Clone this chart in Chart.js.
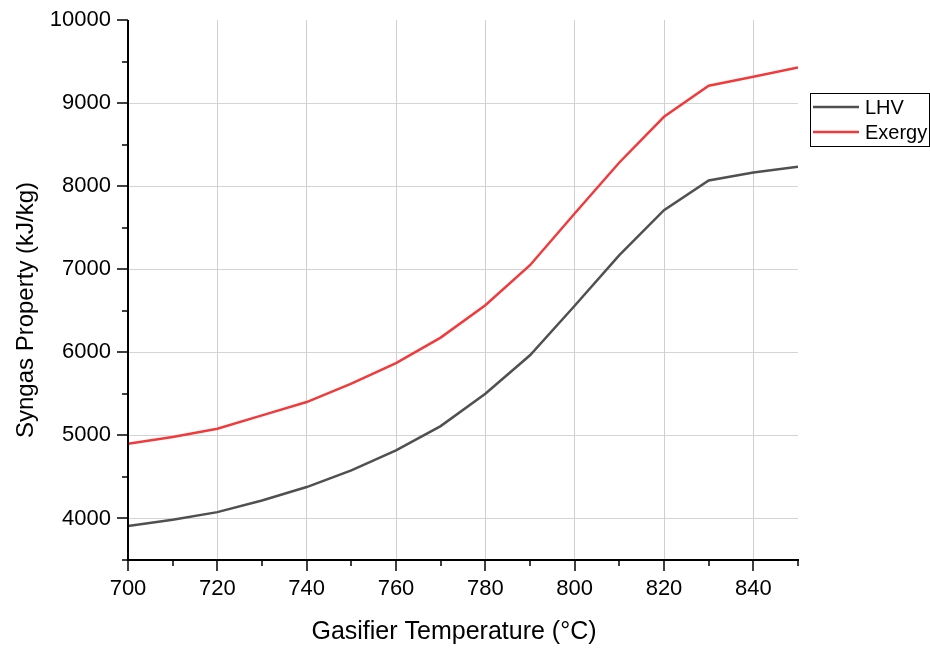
<!DOCTYPE html>
<html><head><meta charset="utf-8">
<script src="https://cdn.jsdelivr.net/npm/chart.js@4.4.1/dist/chart.umd.min.js"></script>
<style>html,body{margin:0;padding:0;background:#fff}canvas{display:block}</style>
</head><body>
<canvas id="c" width="930" height="648"></canvas>
<script>
const temperatures = [700,710,720,730,740,750,760,770,780,790,800,810,820,830,840,850];
const lhv = [3908,3984,4076,4217,4378,4578,4819,5112,5502,5964,6560,7169,7711,8068,8165,8233];
const exergy = [4900,4980,5080,5241,5401,5622,5871,6177,6566,7048,7671,8285,8835,9209,9317,9430];
const seriesNames = ['LHV','Exergy'];
const seriesColors = ['#505050','#f23a3c'];
const xTitle = 'Gasifier Temperature (°C)';
const yTitle = 'Syngas Property (kJ/kg)';
const FONT = '"Liberation Sans", Arial, sans-serif';

const tickPlugin = {
  id:'ticks',
  afterDraw(chart){
    const ctx = chart.ctx, x = chart.scales.x, y = chart.scales.y, a = chart.chartArea;
    ctx.save();
    ctx.strokeStyle = '#000'; ctx.lineWidth = 2;
    ctx.beginPath();
    ctx.moveTo(a.left, a.top); ctx.lineTo(a.left, a.bottom);
    ctx.lineTo(a.right + 1, a.bottom);
    ctx.stroke();
    ctx.lineWidth = 1.5;
    for (let v = 3500; v <= 10000; v += 500){
      const p = Math.round(y.getPixelForValue(v)) ;
      const len = v % 1000 === 0 ? 11 : 6;
      ctx.beginPath(); ctx.moveTo(a.left - len, p); ctx.lineTo(a.left, p); ctx.stroke();
    }
    for (let v = 700; v <= 850; v += 10){
      const p = Math.round(x.getPixelForValue(v));
      const len = v % 20 === 0 ? 11 : 6;
      ctx.beginPath(); ctx.moveTo(p, a.bottom); ctx.lineTo(p, a.bottom + len); ctx.stroke();
    }
    // axis titles
    ctx.fillStyle = '#000';
    ctx.font = '25px ' + FONT; ctx.textAlign = 'center'; ctx.textBaseline = 'middle';
    ctx.fillText(xTitle, 454, 632);
    ctx.save();
    ctx.translate(26, 310); ctx.rotate(-Math.PI/2);
    ctx.font = '24px ' + FONT;
    ctx.fillText(yTitle, 0, 0);
    ctx.restore();
    // legend
    const lx = 810, ly = 93, lw = 119, lh = 53;
    ctx.fillStyle = '#fff'; ctx.fillRect(lx, ly, lw, lh);
    ctx.strokeStyle = '#000'; ctx.lineWidth = 1;
    ctx.strokeRect(lx + 0.5, ly + 0.5, lw, lh);
    ctx.font = '20px ' + FONT; ctx.textAlign = 'left'; ctx.textBaseline = 'middle'; ctx.fillStyle = '#000';
    chart.data.datasets.forEach((ds, i) => {
      const yy = ly + 14 + i * 25;
      ctx.strokeStyle = ds.borderColor; ctx.lineWidth = 2.5;
      ctx.beginPath(); ctx.moveTo(lx + 3, yy); ctx.lineTo(lx + 49, yy); ctx.stroke();
      ctx.fillText(ds.label, lx + 55, yy + 1);
    });
    ctx.restore();
  }
};

new Chart(document.getElementById('c'), {
  type:'line',
  data:{
    labels: temperatures,
    datasets:[
      {label:seriesNames[0], data: temperatures.map((t,i)=>({x:t,y:lhv[i]})), borderColor:seriesColors[0], borderWidth:2.5, pointRadius:0, tension:0},
      {label:seriesNames[1], data: temperatures.map((t,i)=>({x:t,y:exergy[i]})), borderColor:seriesColors[1], borderWidth:2.5, pointRadius:0, tension:0}
    ]
  },
  options:{
    responsive:false, animation:false,
    layout:{padding:{top:20,right:132,left:0,bottom:0}},
    plugins:{legend:{display:false}, tooltip:{enabled:false}},
    scales:{
      x:{
        type:'linear', min:700, max:850,
        border:{display:false},
        grid:{
          color:(c)=>{const v=c.tick&&c.tick.value; return (v%20===0 && v>700 && v<850)?'#cfcfcf':'rgba(0,0,0,0)';},
          lineWidth:1, tickColor:'rgba(0,0,0,0)', tickLength:11
        },
        ticks:{stepSize:10, autoSkip:false, maxRotation:0, color:'#000', font:{family:FONT,size:22}, padding:5,
          callback:(v)=> v%20===0 && v<850 ? String(v) : ''},
        title:{display:false},
        afterFit:(s)=>{s.height = 88;}
      },
      y:{
        min:3500, max:10000,
        border:{display:false},
        grid:{
          color:(c)=>{const v=c.tick&&c.tick.value; return (v%1000===0 && v<10000)?'#d4d4d4':'rgba(0,0,0,0)';},
          lineWidth:1, tickColor:'rgba(0,0,0,0)', tickLength:11
        },
        ticks:{stepSize:500, autoSkip:false, color:'#000', font:{family:FONT,size:22}, padding:6,
          callback:(v)=> v%1000===0 ? String(v) : ''},
        title:{display:false},
        afterFit:(s)=>{s.width = 128;}
      }
    }
  },
  plugins:[tickPlugin]
});
</script>
</body></html>
